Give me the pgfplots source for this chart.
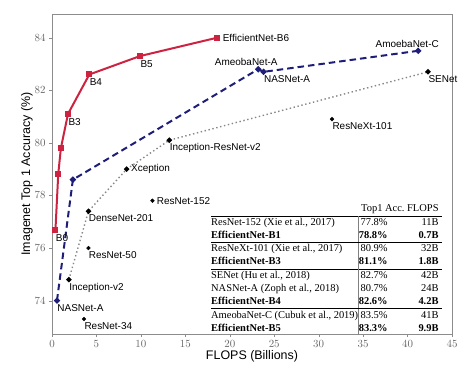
\documentclass[border=0pt]{standalone}
\usepackage{fontspec}
\setmainfont{Liberation Sans}
\newfontfamily\tabfont{Liberation Serif}
\usepackage{array}
\usepackage{pgfplots}
\pgfplotsset{compat=1.18}
\definecolor{effred}{RGB}{205,35,65}
\definecolor{nasblue}{RGB}{30,30,120}
\definecolor{dotgray}{RGB}{135,135,135}
\begin{document}
\begin{tikzpicture}
\begin{axis}[
  width=400bp, height=320bp, scale only axis,
  xmin=0, xmax=45, ymin=72.73, ymax=84.9,
  xtick={0,5,...,45}, ytick={74,76,...,84},
  axis line style={black!45},
  tick style={black!45}, tick align=outside, major tick length=3bp,
  xtick pos=left, ytick pos=left,
  tick label style={font=\fontsize{11}{11}\selectfont, text=black!60},
  xlabel={FLOPS (Billions)}, ylabel={Imagenet Top 1 Accuracy (\%)},
  label style={font=\fontsize{12.5}{14}\selectfont},
  xlabel style={yshift=4bp},
  ylabel style={yshift=-5bp},
  clip=false,
  every node/.style={font=\fontsize{11.3}{13}\selectfont, inner sep=1bp},
]
\addplot[dotgray, dash pattern=on 1.4bp off 2.6bp, line width=1.4bp, mark=*, mark size=1.9bp, mark options={solid, black}]
  coordinates {(1.9,74.8)(4.1,77.4)(8.4,79.0)(13.2,80.1)(42.3,82.7)};
\addplot[nasblue, dash pattern=on 6.5bp off 4bp, line width=2bp, mark=*, mark size=1.9bp, mark options={solid, fill=nasblue}]
  coordinates {(0.56,74.0)(2.35,78.6)(23.2,82.8)(23.8,82.7)(41.2,83.5)};
\addplot[effred, line width=2bp, mark=square*, mark size=2bp]
  coordinates {(0.39,76.7)(0.70,78.8)(1.0,79.8)(1.8,81.1)(4.2,82.6)(9.9,83.3)(18.6,84.0)};
\addplot[only marks, black, mark=*, mark size=1.9bp]
  coordinates {(11.3,77.8)(4.1,76.0)(3.6,73.3)(31.5,80.9)};

\node[anchor=west, xshift=2bp] at (axis cs:18.6,84.0) {EfficientNet-B6};
\node[anchor=north west, xshift=-3bp, yshift=-1bp] at (axis cs:9.9,83.3) {B5};
\node[anchor=north west, xshift=-3bp, yshift=-1bp] at (axis cs:4.2,82.6) {B4};
\node[anchor=north west, xshift=-3bp, yshift=-1bp] at (axis cs:1.8,81.1) {B3};
\node[anchor=north west, xshift=-3bp, yshift=-1bp] at (axis cs:0.39,76.7) {B0};
\node[anchor=south, xshift=-12bp] at (axis cs:23.2,82.8) {AmeobaNet-A};
\node[anchor=north west, xshift=-3bp] at (axis cs:23.8,82.7) {NASNet-A};
\node[anchor=south, xshift=-11bp] at (axis cs:41.2,83.5) {AmoebaNet-C};
\node[anchor=north west, xshift=-3bp] at (axis cs:42.3,82.7) {SENet};
\node[anchor=north west, xshift=-3bp] at (axis cs:31.5,80.9) {ResNeXt-101};
\node[anchor=north west, xshift=-3bp] at (axis cs:13.2,80.1) {Inception-ResNet-v2};
\node[anchor=west, xshift=1bp] at (axis cs:8.4,79.0) {Xception};
\node[anchor=west, xshift=1bp] at (axis cs:11.3,77.8) {ResNet-152};
\node[anchor=north west, xshift=-3bp] at (axis cs:4.1,77.4) {DenseNet-201};
\node[anchor=north west, xshift=-3bp] at (axis cs:4.1,76.0) {ResNet-50};
\node[anchor=north west, xshift=-3bp] at (axis cs:1.9,74.8) {Inception-v2};
\node[anchor=north west, xshift=-3bp] at (axis cs:0.56,74.0) {NASNet-A};
\node[anchor=north west, xshift=-3bp] at (axis cs:3.6,73.3) {ResNet-34};

\node[anchor=north east, inner sep=0pt, font=\tabfont\fontsize{10.5}{12.6}\selectfont] at (axis cs:43.85,77.74) {%
\setlength{\tabcolsep}{0pt}%
\setlength{\arrayrulewidth}{0.5bp}%
\renewcommand{\arraystretch}{1.04}%
\begin{tabular}{@{}p{147bp}!{\color{black!50}\vrule}>{\raggedleft\arraybackslash}p{29bp}>{\raggedleft\arraybackslash}p{51bp}@{\hspace{3bp}}}
\multicolumn{3}{@{}r@{\hspace{3bp}}}{Top1 Acc.\ FLOPS}\\ \hline
ResNet-152 (Xie et al., 2017) & 77.8\% & 11B\\
\textbf{EfficientNet-B1} & \textbf{78.8\%} & \textbf{0.7B}\\ \hline
ResNeXt-101 (Xie et al., 2017) & 80.9\% & 32B\\
\textbf{EfficientNet-B3} & \textbf{81.1\%} & \textbf{1.8B}\\ \hline
SENet (Hu et al., 2018) & 82.7\% & 42B\\
NASNet-A (Zoph et al., 2018) & 80.7\% & 24B\\
\textbf{EfficientNet-B4} & \textbf{82.6\%} & \textbf{4.2B}\\ \hline
AmeobaNet-C (Cubuk et al., 2019) & 83.5\% & 41B\\
\textbf{EfficientNet-B5} & \textbf{83.3\%} & \textbf{9.9B}\\
\end{tabular}};
\end{axis}
\pgfresetboundingbox
\path (-52bp,-41bp) rectangle (418bp,334bp);
\end{tikzpicture}
\end{document}
